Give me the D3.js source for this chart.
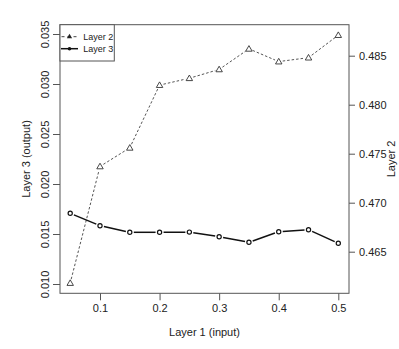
<!DOCTYPE html>
<html>
<head>
<meta charset="utf-8">
<script src="https://cdn.jsdelivr.net/npm/d3@7"></script>
<style>
  body { margin: 0; background: #fff; }
  text { font-family: "Liberation Sans", Arial, sans-serif; fill: #222; }
</style>
</head>
<body>
<svg id="chart" width="399" height="349"></svg>
<script>
// values
const inputs = [0.05, 0.1, 0.15, 0.2, 0.25, 0.3, 0.35, 0.4, 0.45, 0.5];
const layer2 = [0.4618, 0.4737, 0.4756, 0.4820, 0.4827, 0.4836, 0.4857, 0.4844, 0.4848, 0.4871];
const layer3 = [0.01707, 0.01583, 0.01517, 0.01517, 0.01519, 0.01473, 0.01417, 0.01523, 0.01543, 0.01407];
const xTicks = [0.1, 0.2, 0.3, 0.4, 0.5];
const leftTicks = [0.010, 0.015, 0.020, 0.025, 0.030, 0.035];
const rightTicks = [0.465, 0.470, 0.475, 0.480, 0.485];

const box = { left: 60, right: 349, top: 24.7, bottom: 293.3 };
const axisCol = "#555";

const svg = d3.select("#chart");

const x = d3.scaleLinear().domain([0.1, 0.5]).range([100, 338.3]);
const yL = d3.scaleLinear().domain([0.010, 0.035]).range([284, 34]);
const yR = d3.scaleLinear().domain([0.465, 0.485]).range([251.7, 55.7]);

// axes
const xAxis = svg.append("g")
    .attr("transform", `translate(0,${box.bottom})`)
    .call(d3.axisBottom(x).tickValues(xTicks).tickFormat(d3.format(".1f")).tickSize(7).tickPadding(4));
const lAxis = svg.append("g")
    .attr("transform", `translate(${box.left},0)`)
    .call(d3.axisLeft(yL).tickValues(leftTicks).tickFormat(d3.format(".3f")).tickSize(7));
const rAxis = svg.append("g")
    .attr("transform", `translate(${box.right},0)`)
    .call(d3.axisRight(yR).tickValues(rightTicks).tickFormat(d3.format(".3f")).tickSize(6).tickPadding(4));

[xAxis, lAxis, rAxis].forEach(a => {
    a.select(".domain").remove();
    a.selectAll(".tick line").attr("stroke", axisCol);
    a.selectAll(".tick text").attr("font-size", "11px").attr("fill", "#222")
        .style("font-family", '"Liberation Sans", Arial, sans-serif');
});
// left labels rotated like R's default
lAxis.selectAll(".tick text")
    .attr("x", null).attr("dy", null)
    .attr("text-anchor", "middle")
    .attr("transform", "translate(-11,0) rotate(-90)");
rAxis.selectAll(".tick text").attr("dy", "0.35em");

// frame
svg.append("rect")
    .attr("x", box.left).attr("y", box.top)
    .attr("width", box.right - box.left).attr("height", box.bottom - box.top)
    .attr("fill", "none").attr("stroke", axisCol).attr("stroke-width", 1);

// axis titles
svg.append("text")
    .attr("x", (box.left + box.right) / 2).attr("y", 336)
    .attr("text-anchor", "middle").attr("font-size", "11px")
    .text("Layer 1 (input)");
svg.append("text")
    .attr("transform", `translate(30,${(box.top + box.bottom) / 2}) rotate(-90)`)
    .attr("text-anchor", "middle").attr("font-size", "11px")
    .text("Layer 3 (output)");
svg.append("text")
    .attr("transform", `translate(395,${(box.top + box.bottom) / 2}) rotate(-90)`)
    .attr("text-anchor", "middle").attr("font-size", "11px")
    .text("Layer 2");

// R type="b": segments with gaps around points
function gappedSegments(g, pts, gap, style) {
    for (let i = 0; i < pts.length - 1; i++) {
        const [x0, y0] = pts[i], [x1, y1] = pts[i + 1];
        const len = Math.hypot(x1 - x0, y1 - y0);
        if (len <= 2 * gap) continue;
        const ux = (x1 - x0) / len, uy = (y1 - y0) / len;
        const l = g.append("line")
            .attr("x1", x0 + ux * gap).attr("y1", y0 + uy * gap)
            .attr("x2", x1 - ux * gap).attr("y2", y1 - uy * gap);
        style(l);
    }
}

const tri = d3.symbol().type(d3.symbolTriangle).size(18);

// Layer 2 (right axis)
const g2 = svg.append("g");
const pts2 = inputs.map((d, i) => [x(d), yR(layer2[i])]);
gappedSegments(g2, pts2, 4, l => l.attr("stroke", "#555").attr("stroke-width", 1).attr("stroke-dasharray", "2.5,2"));
g2.selectAll("path.pt").data(pts2).join("path")
    .attr("class", "pt")
    .attr("d", tri)
    .attr("transform", d => `translate(${d[0]},${d[1] + 0.5})`)
    .attr("fill", "none").attr("stroke", "#333").attr("stroke-width", 0.9);

// Layer 3 (left axis)
const g3 = svg.append("g");
const pts3 = inputs.map((d, i) => [x(d), yL(layer3[i])]);
gappedSegments(g3, pts3, 4, l => l.attr("stroke", "#111").attr("stroke-width", 1.5));
g3.selectAll("circle").data(pts3).join("circle")
    .attr("cx", d => d[0]).attr("cy", d => d[1]).attr("r", 2.1)
    .attr("fill", "#fff").attr("stroke", "#111").attr("stroke-width", 1.2);

// legend
const leg = svg.append("g");
leg.append("rect")
    .attr("x", box.left).attr("y", box.top)
    .attr("width", 54.3).attr("height", 36.3)
    .attr("fill", "#fff").attr("stroke", axisCol).attr("stroke-width", 1);
const legItems = [
    { name: "Layer 2", y: 36.7 },
    { name: "Layer 3", y: 48.7 }
];
legItems.forEach((it, i) => {
    const row = leg.append("g");
    if (i === 0) {
        row.append("line").attr("x1", 61.5).attr("x2", 77.5).attr("y1", it.y).attr("y2", it.y)
            .attr("stroke", "#444").attr("stroke-dasharray", "3,3").attr("stroke-width", 1);
        row.append("path").attr("d", d3.symbol().type(d3.symbolTriangle).size(12))
            .attr("transform", `translate(69.5,${it.y})`).attr("fill", "#222");
    } else {
        row.append("line").attr("x1", 61).attr("x2", 78).attr("y1", it.y).attr("y2", it.y)
            .attr("stroke", "#111").attr("stroke-width", 1.5);
        row.append("circle").attr("cx", 69.5).attr("cy", it.y).attr("r", 1.8).attr("fill", "#111");
    }
    row.append("text").attr("x", 83.3).attr("y", it.y).attr("dy", "0.35em")
        .attr("font-size", "9px").text(it.name);
});
</script>
</body>
</html>
